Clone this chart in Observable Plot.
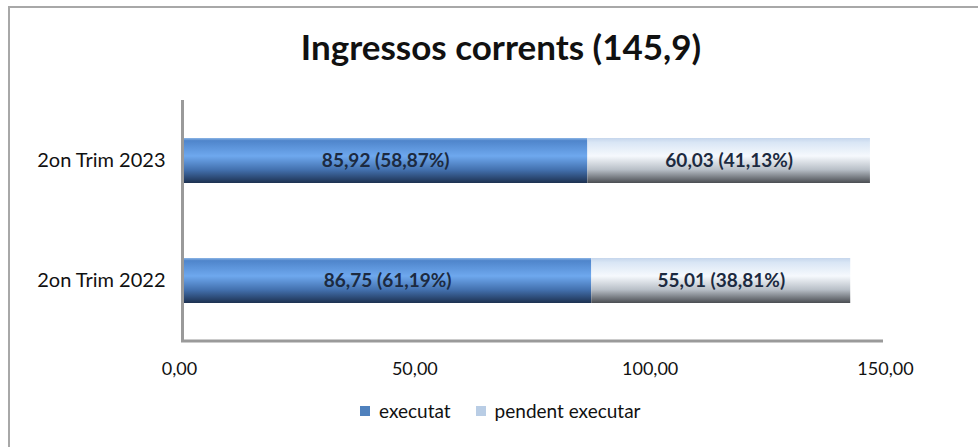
<!DOCTYPE html>
<html>
<head>
<meta charset="utf-8">
<script src="https://cdn.jsdelivr.net/npm/d3@7"></script>
<script src="https://cdn.jsdelivr.net/npm/@observablehq/plot@0.6"></script>
<style>
  html, body { margin: 0; padding: 0; background: #fff; }
  #wrap { position: relative; width: 978px; height: 447px; overflow: hidden; background: #fff; font-family: Lato, "Open Sans", sans-serif; }
  #frame { position: absolute; left: 8px; top: 6px; width: 1000px; height: 500px; border-top: 2px solid #a8a8a8; border-left: 2px solid #a8a8a8; box-sizing: border-box; }
  #title { position: absolute; left: 0; width: 1002px; top: 25px; text-align: center; font-size: 35px; font-weight: bold; color: #111; }
  #chart { position: absolute; left: 0; top: 0; }
  #legend { position: absolute; top: 399px; left: 360px; font-size: 19px; color: #111; display: flex; align-items: center; }
  .sw { display: inline-block; width: 10px; height: 10px; margin-right: 9px; }
  .item { display: flex; align-items: center; margin-right: 25px; }
</style>
</head>
<body>
<div id="wrap">
  <div id="frame"></div>
  <div id="title">Ingressos corrents (145,9)</div>
  <div id="chart"></div>
  <div id="legend"></div>
</div>
<script>
const categories = ["2on Trim 2023", "2on Trim 2022"];
const executat = [85.92, 86.75];
const executatPct = [58.87, 61.19];
const pendent = [60.03, 55.01];
const pendentPct = [41.13, 38.81];
const series = ["executat", "pendent executar"];
const xTicks = [0, 50, 100, 150];

const fmt = (v) => v.toFixed(2).replace(".", ",");

const rows = [];
categories.forEach((c, i) => {
  rows.push({cat: c, s: series[0], x1: 0, x2: executat[i], label: `${fmt(executat[i])} (${fmt(executatPct[i])}%)`});
  rows.push({cat: c, s: series[1], x1: executat[i], x2: executat[i] + pendent[i], label: `${fmt(pendent[i])} (${fmt(pendentPct[i])}%)`});
});

const fills = {"executat": "url(#gExec)", "pendent executar": "url(#gPend)"};

const chart = Plot.plot({
  width: 978,
  height: 447,
  marginLeft: 183,
  marginRight: 89,
  marginTop: 100,
  marginBottom: 107,
  style: {fontFamily: "Lato, 'Open Sans', sans-serif", background: "transparent"},
  x: {domain: [0, 150], ticks: xTicks, tickFormat: fmt, label: null},
  y: {domain: categories, paddingInner: 0.625, paddingOuter: 0.3125, label: null},
  marks: [
    Plot.barX(rows, {y: "cat", x1: "x1", x2: "x2", fill: (d) => fills[d.s]}),
    Plot.text(rows, {y: "cat", x: (d) => (d.x1 + d.x2) / 2, text: "label", fill: "#1c2a40", fontSize: 19, fontWeight: "bold"}),
    Plot.ruleX([0], {dx: -1, stroke: "#9a9a9a", strokeWidth: 3}),
    Plot.axisX({ticks: xTicks, tickFormat: fmt, tickSize: 0, tickPadding: 22, fontSize: 18, dx: -4, fill: "#111"}),
    Plot.axisY({tickSize: 0, tickPadding: 18, fontSize: 20, fill: "#111"})
  ]
});

// gradients
const ns = "http://www.w3.org/2000/svg";
const defs = document.createElementNS(ns, "defs");
defs.innerHTML = `
  <linearGradient id="gExec" x1="0" y1="0" x2="0" y2="1">
    <stop offset="0" stop-color="#8db6e6"/>
    <stop offset="0.06" stop-color="#4f85cb"/>
    <stop offset="0.4" stop-color="#6ea8ee"/>
    <stop offset="0.7" stop-color="#4472b0"/>
    <stop offset="1" stop-color="#1d3150"/>
  </linearGradient>
  <linearGradient id="gPend" x1="0" y1="0" x2="0" y2="1">
    <stop offset="0" stop-color="#c5d6ec"/>
    <stop offset="0.1" stop-color="#d9e6f5"/>
    <stop offset="0.4" stop-color="#f6f9fd"/>
    <stop offset="0.7" stop-color="#b9c0c8"/>
    <stop offset="1" stop-color="#4a4d52"/>
  </linearGradient>`;
chart.insertBefore(defs, chart.firstChild);

// bottom axis line drawn via scale
const xs = chart.scale("x");
const line = document.createElementNS(ns, "line");
line.setAttribute("x1", xs.apply(0) - 2);
line.setAttribute("x2", xs.apply(150) - 6);
line.setAttribute("y1", 341);
line.setAttribute("y2", 341);
line.setAttribute("stroke", "#9a9a9a");
line.setAttribute("stroke-width", 3);
chart.appendChild(line);

document.getElementById("chart").appendChild(chart);

// legend
const legendColors = {"executat": "#4f81bd", "pendent executar": "#b9cde5"};
const leg = document.getElementById("legend");
series.forEach(s => {
  const it = document.createElement("div");
  it.className = "item";
  it.innerHTML = `<span class="sw" style="background:${legendColors[s]}"></span><span>${s}</span>`;
  leg.appendChild(it);
});
</script>
</body>
</html>
